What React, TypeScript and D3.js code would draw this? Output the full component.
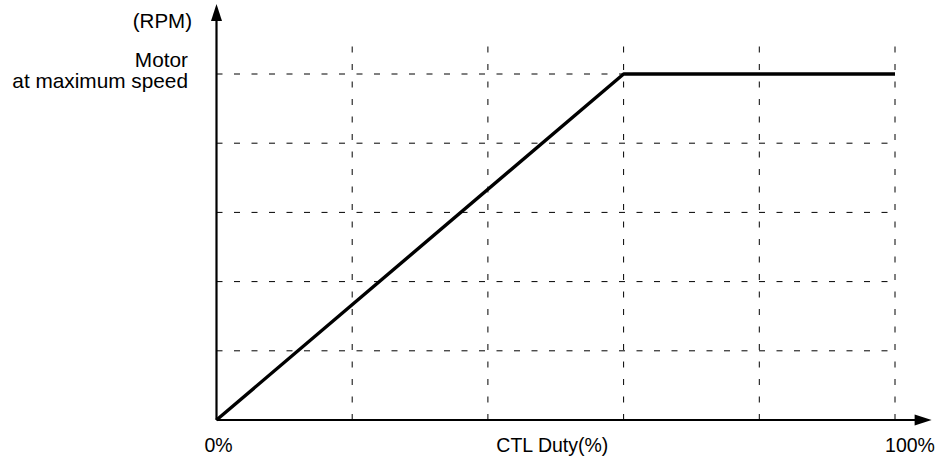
import React, { useEffect, useRef } from 'react'
import * as d3 from 'd3'

// CTL duty (%) vs motor speed (grid units, 5 = maximum speed)
const duty = [0, 60, 100]
const speed = [0, 5, 5]
const xGrid = [20, 40, 60, 80, 100]
const yGrid = [1, 2, 3, 4, 5]
const xLabels = ['0%', '100%']
const xTitle = 'CTL Duty(%)'
const yUnit = '(RPM)'
const yLabel = ['Motor', 'at maximum speed']

function App() {
  const svgRef = useRef<SVGSVGElement>(null)

  useEffect(() => {
    const w = 939
    const h = 460
    const svg = d3.select(svgRef.current)
    svg.selectAll('*').remove()
    svg.attr('width', w).attr('height', h)

    const font = '"Liberation Sans", Arial, sans-serif'

    // scales
    const x = d3.scaleLinear().domain([0, 100]).range([216.5, 895])
    const y = d3.scaleLinear().domain([0, 5]).range([420, 74])

    const dash = '6,11.5'

    // grid
    svg.append('g')
      .selectAll('line')
      .data(yGrid)
      .join('line')
      .attr('x1', x(0))
      .attr('x2', x(100))
      .attr('y1', d => y(d))
      .attr('y2', d => y(d))
      .attr('stroke', '#000')
      .attr('stroke-width', 1)
      .attr('stroke-dasharray', dash)

    svg.append('g')
      .selectAll('line')
      .data(xGrid)
      .join('line')
      .attr('x1', d => x(d))
      .attr('x2', d => x(d))
      .attr('y1', y(0))
      .attr('y2', y(5.42))
      .attr('stroke', '#000')
      .attr('stroke-width', 1)
      .attr('stroke-dasharray', dash)

    // axes with arrows
    const x0 = x(0)
    const y0 = y(0)
    const yTip = y(6.01)
    const xTip = x(105.4)

    svg.append('line')
      .attr('x1', x0).attr('x2', x0)
      .attr('y1', y0).attr('y2', yTip + 10)
      .attr('stroke', '#000').attr('stroke-width', 2.2)
    svg.append('path')
      .attr('d', `M${x0},${yTip} L${x0 - 5.5},${yTip + 17} L${x0 + 5.5},${yTip + 17} Z`)
      .attr('fill', '#000')

    svg.append('line')
      .attr('x1', x0).attr('x2', xTip - 10)
      .attr('y1', y0).attr('y2', y0)
      .attr('stroke', '#000').attr('stroke-width', 2.2)
    svg.append('path')
      .attr('d', `M${xTip},${y0} L${xTip - 17},${y0 - 5.5} L${xTip - 17},${y0 + 5.5} Z`)
      .attr('fill', '#000')

    // curve
    const line = d3.line<number>()
      .x((d, i) => x(duty[i]))
      .y(d => y(d))
    svg.append('path')
      .datum(speed)
      .attr('d', line)
      .attr('fill', 'none')
      .attr('stroke', '#000')
      .attr('stroke-width', 3.4)
      .attr('stroke-linejoin', 'round')

    // labels
    const txt = svg.append('g')
      .attr('font-family', font)
      .attr('fill', '#000')

    txt.append('text')
      .attr('x', 192).attr('y', 28)
      .attr('text-anchor', 'end')
      .attr('font-size', 20.5)
      .text(yUnit)

    txt.append('text')
      .attr('x', 188).attr('y', 67)
      .attr('text-anchor', 'end')
      .attr('font-size', 20.8)
      .selectAll('tspan')
      .data(yLabel)
      .join('tspan')
      .attr('x', 188)
      .attr('dy', (d, i) => (i === 0 ? 0 : 21))
      .text(d => d)

    txt.append('text')
      .attr('x', x(0) + 2).attr('y', 452)
      .attr('text-anchor', 'middle')
      .attr('font-size', 19.5)
      .text(xLabels[0])

    txt.append('text')
      .attr('x', x(100) + 15).attr('y', 452)
      .attr('text-anchor', 'middle')
      .attr('font-size', 19.5)
      .text(xLabels[1])

    txt.append('text')
      .attr('x', x(49.5)).attr('y', 452)
      .attr('text-anchor', 'middle')
      .attr('font-size', 19.5)
      .text(xTitle)
  }, [])

  return (
    <svg ref={svgRef} style={{ position: 'absolute', left: 0, top: 0, background: '#fff' }}></svg>
  )
}

export default App
